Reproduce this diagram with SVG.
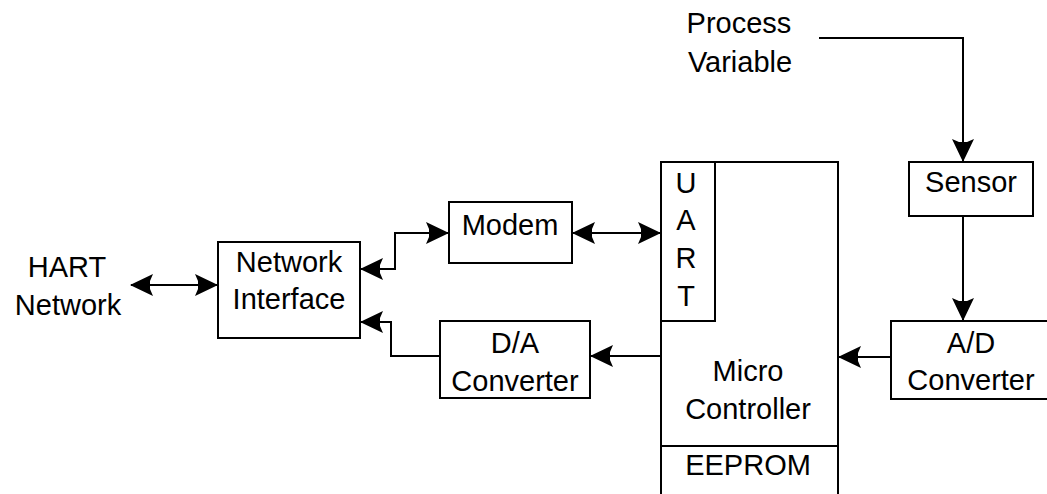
<svg xmlns="http://www.w3.org/2000/svg" width="1047" height="494" viewBox="0 0 1047 494">
<style>
.box{fill:#fff;stroke:#000;stroke-width:2}
.ln{fill:none;stroke:#000;stroke-width:2}
text{font-family:"Liberation Sans",Arial,sans-serif;font-size:29px;fill:#000;text-anchor:middle}
</style>
<defs>
<marker id="ah" markerUnits="userSpaceOnUse" markerWidth="30" markerHeight="30" viewBox="-26 -15 30 30" refX="0" refY="0" orient="auto-start-reverse">
<path d="M1,0 L-22,-11 L-19,-4 L-19,4 L-22,11 Z" fill="#000"/>
</marker>
</defs>
<rect width="1047" height="494" fill="#fff"/>
<g id="hart">
<text x="67" y="277">HART</text>
<text x="68" y="315">Network</text>
</g>
<g id="pv">
<text x="739" y="33">Process</text>
<text x="740" y="72">Variable</text>
</g>
<g id="netif">
<rect class="box" x="218" y="242" width="142" height="96"/>
<text x="289" y="272">Network</text>
<text x="289" y="309">Interface</text>
</g>
<g id="modem">
<rect class="box" x="449" y="202" width="123" height="61"/>
<text x="510" y="235">Modem</text>
</g>
<g id="da">
<rect class="box" x="440" y="321" width="150" height="77"/>
<text x="515" y="353">D/A</text>
<text x="515" y="391">Converter</text>
</g>
<g id="micro">
<rect class="box" x="661" y="162" width="177" height="340"/>
<line class="ln" x1="661" y1="446" x2="838" y2="446"/>
<text x="748" y="381">Micro</text>
<text x="748" y="419">Controller</text>
<text x="748" y="475">EEPROM</text>
</g>
<g id="uart">
<rect class="box" x="661" y="162" width="54" height="159"/>
<text x="686" y="193">U</text>
<text x="686" y="230">A</text>
<text x="686" y="268">R</text>
<text x="686" y="306">T</text>
</g>
<g id="sensor">
<rect class="box" x="909" y="162" width="124" height="54"/>
<text x="971" y="192">Sensor</text>
</g>
<g id="ad">
<rect class="box" x="891" y="321" width="170" height="78"/>
<text x="971" y="353">A/D</text>
<text x="971" y="390">Converter</text>
</g>
<g id="connectors">
<path class="ln" d="M131,285 H217" marker-start="url(#ah)" marker-end="url(#ah)"/>
<path class="ln" d="M361,269 H395 V233 H448" marker-start="url(#ah)" marker-end="url(#ah)"/>
<path class="ln" d="M573,233 H660" marker-start="url(#ah)" marker-end="url(#ah)"/>
<path class="ln" d="M440,356 H391 V322 H361" marker-end="url(#ah)"/>
<path class="ln" d="M661,356 H591" marker-end="url(#ah)"/>
<path class="ln" d="M891,357 H839" marker-end="url(#ah)"/>
<path class="ln" d="M819,38 H963 V161" marker-end="url(#ah)"/>
<path class="ln" d="M963,216 V320" marker-end="url(#ah)"/>
</g>
</svg>
